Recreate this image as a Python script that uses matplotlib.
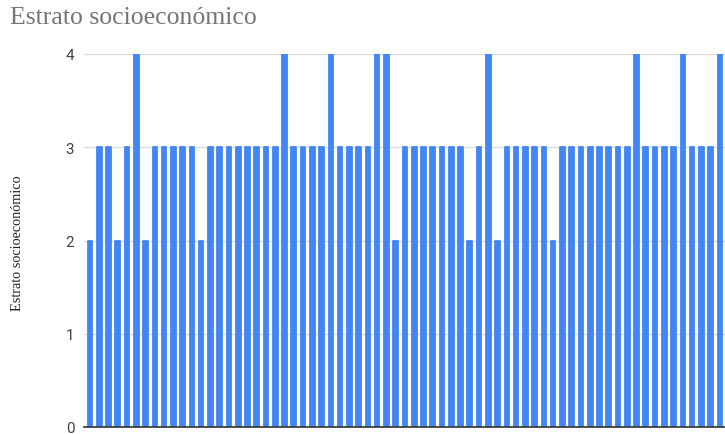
import matplotlib
matplotlib.use("Agg")
import matplotlib.pyplot as plt
import numpy as np

# Socioeconomic stratum per respondent
estrato = [2, 3, 3, 2, 3, 4, 2, 3, 3, 3, 3, 3, 2, 3, 3, 3, 3, 3, 3, 3,
           3, 4, 3, 3, 3, 3, 4, 3, 3, 3, 3, 4, 4, 2, 3, 3, 3, 3, 3, 3,
           3, 2, 3, 4, 2, 3, 3, 3, 3, 3, 2, 3, 3, 3, 3, 3, 3, 3, 3, 4,
           3, 3, 3, 3, 4, 3, 3, 3, 4]
y_ticks = [0, 1, 2, 3, 4]

title = "Estrato socioeconómico"
y_label = "Estrato socioeconómico"

W, H = 725, 435
fig = plt.figure(figsize=(W / 100, H / 100), dpi=100)
ax = fig.add_axes([84 / W, 7 / H, 1 - 84 / W, (428 - 55) / H])

x = np.arange(len(estrato))
ax.bar(x, estrato, width=0.5, color="#4285F4", edgecolor="#4285F4",
       linewidth=1.3, joinstyle="round", zorder=3)

ax.set_xlim(-0.65, 68.55)
ax.set_ylim(0, 4)
ax.set_yticks(y_ticks)
ax.set_yticklabels([str(t) for t in y_ticks], fontsize=11, color="#444444",
                   family="Roboto")
ax.set_xticks([])
ax.tick_params(axis="y", length=0, pad=7)
ax.grid(axis="y", color="#dddddd", linewidth=1, zorder=0)
for side in ["top", "right", "left"]:
    ax.spines[side].set_visible(False)
ax.spines["bottom"].set_color("#333333")
ax.spines["bottom"].set_linewidth(1.2)
ax.spines["bottom"].set_zorder(4)

fig.text(18 / W, 1 - 243 / H, y_label, rotation=90, ha="center", va="center",
         fontsize=10.3, family="Liberation Serif", color="#222222")
fig.text(10 / W, 1 - 18 / H, title, ha="left", va="center",
         fontsize=18.5, family="Liberation Serif", color="#757575")

fig.savefig("out.png", dpi=100)
